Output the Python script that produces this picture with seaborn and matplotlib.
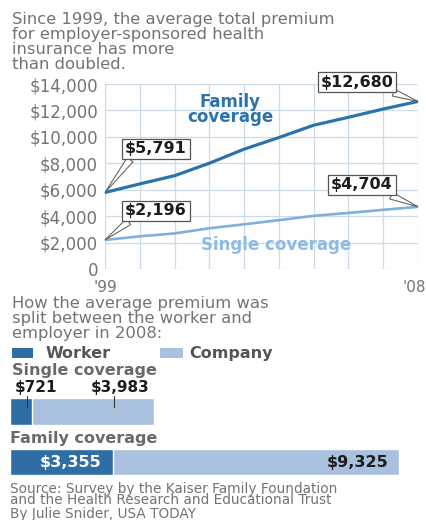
import matplotlib
matplotlib.use("Agg")
import matplotlib.pyplot as plt
import matplotlib.transforms as mtransforms
import seaborn as sns
import pandas as pd
from matplotlib.lines import Line2D
from matplotlib.patches import Rectangle

# ---------------- data ----------------
years = [1999, 2000, 2001, 2002, 2003, 2004, 2005, 2006, 2007, 2008]
family_premium = [5791, 6438, 7061, 8003, 9068, 9950, 10880, 11480, 12106, 12680]
single_premium = [2196, 2471, 2689, 3083, 3383, 3695, 4024, 4242, 4479, 4704]
year_tick_labels = ["'99", "", "", "", "", "", "", "", "", "'08"]
y_ticks = [0, 2000, 4000, 6000, 8000, 10000, 12000, 14000]
y_tick_labels = ["0", "$2,000", "$4,000", "$6,000", "$8,000", "$10,000", "$12,000", "$14,000"]

coverage_types = ["Single coverage", "Family coverage"]
worker_share = [721, 3355]
company_share = [3983, 9325]

title_lines = ["Since 1999, the average total premium",
               "for employer-sponsored health",
               "insurance has more",
               "than doubled."]
split_lines = ["How the average premium was",
               "split between the worker and",
               "employer in 2008:"]
source_lines = ["Source: Survey by the Kaiser Family Foundation",
                "and the Health Research and Educational Trust"]
credit_line = "By Julie Snider, USA TODAY"

# ---------------- style ----------------
FAM = "#2a74ae"
SGL = "#7fb0dc"
SGL_TXT = "#8dbbe6"
WORK = "#2e6ea5"
COMP = "#a9c0de"
GRAY = "#737373"
DARK = "#1c1c1c"
GRID = "#cddbe8"

sns.set_style("white")
plt.rcParams["font.family"] = ["DejaVu Sans"]

W, H = 427, 520
fig = plt.figure(figsize=(W / 100, H / 100), dpi=100)
fig.patch.set_facecolor("white")
renderer = fig.canvas.get_renderer()


def put(x, y, s, size, **kw):
    kw.setdefault("va", "baseline")
    return fig.text(x / W, 1 - y / H, s, fontsize=size, **kw)


def put_lines(x, y, lines, size, spacing, **kw):
    """Multi-line text; first baseline at y, baselines `spacing` px apart."""
    s = "\n".join(lines)
    n = len(lines)

    def height(txt, ls):
        t = fig.text(0, 0.5, txt, fontsize=size, linespacing=ls, **kw)
        h = t.get_window_extent(renderer).height
        t.remove()
        return h

    h1 = height(lines[0], 1.0)
    d1 = (height(s, 1.0) - h1) / (n - 1)
    d2 = (height(s, 2.0) - h1) / (n - 1)
    ls = 1.0 + (spacing - d1) / (d2 - d1)
    # 'baseline' alignment refers to the last line of a multi-line text
    return put(x, y + (n - 1) * spacing, s, size, linespacing=ls, **kw)


# ---------------- title ----------------
put_lines(12, 24, title_lines, 11.8, 15, color=GRAY)

# ---------------- line chart ----------------
ax = fig.add_axes([105 / W, 1 - 269 / H, 313 / W, 185 / H])
df_line = pd.DataFrame({"year": years, "family": family_premium, "single": single_premium})
sns.lineplot(data=df_line, x="year", y="family", color=FAM, linewidth=2.3, ax=ax, zorder=3)
sns.lineplot(data=df_line, x="year", y="single", color=SGL, linewidth=1.9, ax=ax, zorder=3)
ax.set_xlim(years[0], years[-1])
ax.set_ylim(0, 14000)
ax.set_xticks(years)
ax.set_xticklabels(year_tick_labels)
ax.set_yticks(y_ticks)
ax.set_yticklabels(y_tick_labels)
ax.set_xlabel("")
ax.set_ylabel("")
for sp in ax.spines.values():
    sp.set_visible(False)
ax.grid(True, color=GRID, linewidth=0.9, zorder=0)
ax.set_axisbelow(True)
ax.tick_params(axis="both", length=0, labelcolor=GRAY)
ax.tick_params(axis="y", pad=5, labelsize=12)
ax.tick_params(axis="x", pad=7.7, labelsize=11)
xlabs = ax.get_xticklabels()
xlabs[-1].set_horizontalalignment("right")
xlabs[-1].set_transform(xlabs[-1].get_transform() +
                        mtransforms.ScaledTranslation(8 / 100, 0, fig.dpi_scale_trans))

# series labels inside chart
put_lines(230, 107, ["Family", "coverage"], 12, 15, color=FAM, fontweight="bold",
          ha="center", multialignment="center")
put(276, 250, "Single coverage", 12, color=SGL_TXT, fontweight="bold", ha="center")

# callouts
callouts = [
    (years[0], family_premium[0], 156, 149, (0.12, 0.0)),
    (years[-1], family_premium[-1], 357, 82, (0.88, 0.0)),
    (years[0], single_premium[0], 156, 211, (0.12, 0.0)),
    (years[-1], single_premium[-1], 362, 185, (0.85, 0.0)),
]
for yr, val, tx, ty, rp in callouts:
    ax.annotate(f"${val:,}", xy=(yr, val), xytext=(tx, H - ty), textcoords="figure pixels",
                ha="center", va="center", fontsize=11.5, fontweight="bold", color=DARK,
                bbox=dict(boxstyle="square,pad=0.17", fc="white", ec="#555555", lw=0.9),
                arrowprops=dict(arrowstyle="wedge,tail_width=0.45", fc="white", ec="#666666",
                                lw=0.8, relpos=rp, shrinkA=0, shrinkB=0),
                annotation_clip=False, zorder=6)

# ---------------- split text ----------------
put_lines(12, 308, split_lines, 11.8, 15, color=GRAY)

# legend
fig.add_artist(Rectangle((12 / W, 1 - 358 / H), 21 / W, 10 / H, transform=fig.transFigure,
                         fc=WORK, ec="none"))
fig.add_artist(Rectangle((160 / W, 1 - 358 / H), 23 / W, 10 / H, transform=fig.transFigure,
                         fc=COMP, ec="none"))
put(46, 358, "Worker", 11.5, color="#555555", fontweight="bold")
put(189, 358, "Company", 11.5, color="#555555", fontweight="bold")

# group labels
put(12, 375, "Single coverage", 11.5, color="#6a6a6a", fontweight="bold")
put(10, 443, "Family coverage", 11.5, color="#6a6a6a", fontweight="bold")

# ---------------- stacked bars ----------------
axb = fig.add_axes([10 / W, 1 - 487.25 / H, 399 / W, 101 / H])
totals = [w + c for w, c in zip(worker_share, company_share)]
df_bar = pd.DataFrame({"coverage": coverage_types, "worker": worker_share,
                       "company": company_share, "total": totals})
sns.barplot(data=df_bar, x="total", y="coverage", orient="h", color=COMP, saturation=1,
            width=0.515, ax=axb)
sns.barplot(data=df_bar, x="worker", y="coverage", orient="h", color=WORK, saturation=1,
            width=0.515, ax=axb)
axb.set_xlim(0, 13000)
axb.set_ylim(1.5, -0.5)
axb.axis("off")

# single coverage value labels with leader ticks
put(15, 392, f"${worker_share[0]:,}", 11, color=DARK, fontweight="bold")
put(91, 392, f"${company_share[0]:,}", 11, color=DARK, fontweight="bold")
for lx in (27, 114):
    fig.add_artist(Line2D([lx / W, lx / W], [1 - 396 / H, 1 - 407 / H],
                          transform=fig.transFigure, color="#333333", lw=0.8))

# family coverage value labels inside bar
put(71, 462, f"${worker_share[1]:,}", 11.5, color="white", fontweight="bold",
    ha="center", va="center")
put(389, 462, f"${company_share[1]:,}", 11.5, color=DARK, fontweight="bold",
    ha="right", va="center")

# ---------------- source ----------------
put_lines(10, 493, source_lines, 9.8, 11.5, color=GRAY)
put(10, 518, credit_line, 9.8, color=GRAY)

fig.savefig("out.png", dpi=100, facecolor="white")
